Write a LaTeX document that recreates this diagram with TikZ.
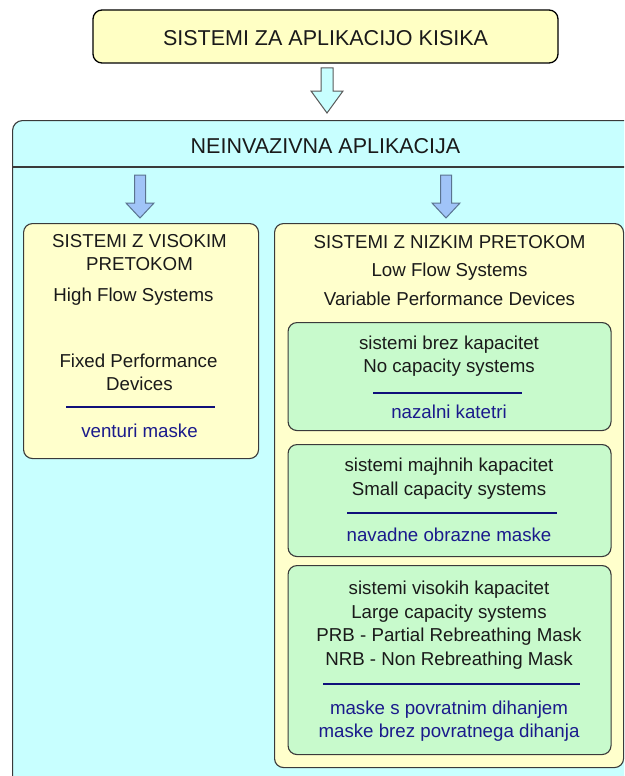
\documentclass[tikz,border=0pt]{standalone}
\usepackage{fontspec}
\setmainfont{Liberation Sans}
\definecolor{cyanbg}{HTML}{C8FFFF}
\definecolor{topy}{HTML}{FFFFC4}
\definecolor{ybox}{HTML}{FFFFCC}
\definecolor{gbox}{HTML}{C8FACC}
\definecolor{navy}{HTML}{1A1A8C}
\definecolor{navyline}{HTML}{10107A}
\definecolor{arrowblue}{HTML}{A0C4F8}
\definecolor{arrowedge}{HTML}{5A7490}
\definecolor{txt}{HTML}{1A1A1A}
\definecolor{edge}{HTML}{3A3A3A}
\begin{document}
\begin{tikzpicture}[x=1pt,y=-1pt,
  boxline/.style={draw=edge, line width=1.1pt},
  boxn/.style={boxline, rounded corners=9pt, inner sep=0pt},
  headtxt/.style={font=\fontsize{21.5}{24}\selectfont, text=txt, anchor=base, inner sep=0pt},
  bodytxt/.style={font=\fontsize{18.7}{22}\selectfont, text=txt, anchor=base, inner sep=0pt},
  bluetxt/.style={font=\fontsize{18.7}{22}\selectfont, text=navy, anchor=base, inner sep=0pt},
  sepline/.style={draw=navyline, line width=1.6pt},
  arrowpath/.style={line width=1pt, line join=miter}
]
\useasboundingbox (0,0) rectangle (624,776);
\begin{scope}
\clip (0,0) rectangle (624,776);
% outer cyan box
\node[boxn, fill=cyanbg, rounded corners=10pt, minimum width=660pt, minimum height=700pt, anchor=north west] (outer) at (12,120) {};
\coordinate (hl) at (12,167);
\coordinate (hr) at (680,167);
\draw[boxline] (hl) -- (hr);
% top box
\node[boxn, fill=topy, draw=black, line width=1.3pt, minimum width=465pt, minimum height=53pt] (top) at (325.5,36.5) {};
\node[headtxt] (toptxt) at (325.5,45.7) {SISTEMI ZA APLIKACIJO KISIKA};
\node[headtxt] (neinv) at (325.5,153.7) {NEINVAZIVNA APLIKACIJA};
% arrows
\draw[arrowpath, draw=gray!70!black, fill=cyanbg]
  (321,68) -- (333,68) -- (333,91) -- (343,91) -- (327,113) -- (311,91) -- (321,91) -- cycle;
\draw[arrowpath, draw=arrowedge, fill=arrowblue]
  (134.5,175) -- (145.5,175) -- (145.5,203) -- (154,203) -- (140,218) -- (126,203) -- (134.5,203) -- cycle;
\draw[arrowpath, draw=arrowedge, fill=arrowblue]
  (440.5,175) -- (451.5,175) -- (451.5,203) -- (460,203) -- (446,218) -- (432,203) -- (440.5,203) -- cycle;
% left yellow box
\node[boxn, fill=ybox, minimum width=235pt, minimum height=235pt, anchor=north west] (left) at (23,223) {};
\node[bodytxt] (l1) at (139.5,247.7) {SISTEMI Z VISOKIM};
\node[bodytxt] (l2) at (139.5,270.7) {PRETOKOM};
\node[bodytxt] (l3) at (133.5,301.7) {High Flow Systems};
\node[bodytxt] (l4) at (138.5,367.7) {Fixed Performance};
\node[bodytxt] (l5) at (139.5,390.7) {Devices};
\coordinate (ls1) at (66,407);
\coordinate (ls2) at (215,407);
\draw[sepline] (ls1) -- (ls2);
\node[bluetxt] (l6) at (139.5,437.7) {venturi maske};
% right yellow box
\node[boxn, fill=ybox, minimum width=349pt, minimum height=544pt, anchor=north west] (right) at (274,223) {};
\node[bodytxt] (r1) at (449.5,248.7) {SISTEMI Z NIZKIM PRETOKOM};
\node[bodytxt] (r2) at (449.5,276.7) {Low Flow Systems};
\node[bodytxt] (r3) at (449.5,305.7) {Variable Performance Devices};
% green box 1
\node[boxn, fill=gbox, minimum width=323pt, minimum height=108pt, anchor=north west] (g1) at (287.5,322) {};
\node[bodytxt] (g1a) at (449,349.7) {sistemi brez kapacitet};
\node[bodytxt] (g1b) at (449,372.7) {No capacity systems};
\coordinate (g1s1) at (373,393);
\coordinate (g1s2) at (522,393);
\draw[sepline] (g1s1) -- (g1s2);
\node[bluetxt] (g1c) at (449,418.7) {nazalni katetri};
% green box 2
\node[boxn, fill=gbox, minimum width=323pt, minimum height=112pt, anchor=north west] (g2) at (287.5,444) {};
\node[bodytxt] (g2a) at (449,471.7) {sistemi majhnih kapacitet};
\node[bodytxt] (g2b) at (449,495.7) {Small capacity systems};
\coordinate (g2s1) at (347,513);
\coordinate (g2s2) at (557,513);
\draw[sepline] (g2s1) -- (g2s2);
\node[bluetxt] (g2c) at (449,541.7) {navadne obrazne maske};
% green box 3
\node[boxn, fill=gbox, minimum width=323pt, minimum height=189pt, anchor=north west] (g3) at (287.5,565) {};
\node[bodytxt] (g3a) at (449,594.7) {sistemi visokih kapacitet};
\node[bodytxt] (g3b) at (449,618.7) {Large capacity systems};
\node[bodytxt] (g3c) at (449,641.7) {PRB - Partial Rebreathing Mask};
\node[bodytxt] (g3d) at (449,665.7) {NRB - Non Rebreathing Mask};
\coordinate (g3s1) at (323,684);
\coordinate (g3s2) at (580,684);
\draw[sepline] (g3s1) -- (g3s2);
\node[bluetxt] (g3e) at (449,714.7) {maske s povratnim dihanjem};
\node[bluetxt] (g3f) at (449,737.7) {maske brez povratnega dihanja};
\end{scope}
\end{tikzpicture}
\end{document}
